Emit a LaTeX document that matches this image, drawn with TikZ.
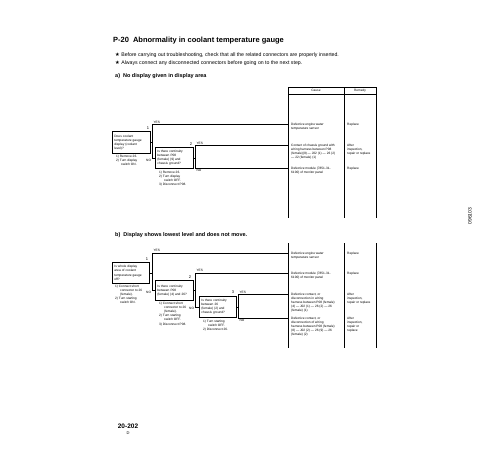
\documentclass[tikz,border=0pt]{standalone}
\usepackage{fontspec}
\setmainfont{Liberation Sans}
\newfontfamily\symf{DejaVu Sans}
\begin{document}
\begin{tikzpicture}[x=1pt,y=-1pt,
  tiny/.style={font=\fontsize{3.2}{4.1}\selectfont, inner sep=0pt, align=left, anchor=north west},
  lab/.style={font=\fontsize{3.2}{4}\selectfont, inner sep=0.3pt},
  num/.style={font=\fontsize{4}{4}\selectfont, inner sep=0.3pt, anchor=south},
  qbox/.style={draw, line width=0.8pt, anchor=north west, inner xsep=2pt, inner ysep=0pt,
     font=\fontsize{3.2}{4.1}\selectfont, align=left},
  conn/.style={line width=0.65pt},
  col/.style={line width=0.65pt}]
\useasboundingbox (0,0) rectangle (500,450);

% heading
\node[anchor=west, inner sep=0pt, font=\fontsize{7.5}{8}\selectfont\bfseries] (title) at (113,41)
  {P-20\hspace{4pt}Abnormality in coolant temperature gauge};
\node[anchor=west, inner sep=0pt, font=\fontsize{5.2}{6}\selectfont] (s1) at (115,55)
  {{\symf ★} Before carrying out troubleshooting, check that all the related connectors are properly inserted.};
\node[anchor=west, inner sep=0pt, font=\fontsize{5.2}{6}\selectfont] (s2) at (115,63)
  {{\symf ★} Always connect any disconnected connectors before going on to the next step.};
\node[anchor=west, inner sep=0pt, font=\fontsize{5.5}{6}\selectfont\bfseries] (ha) at (115,76)
  {a)\hspace{3pt}No display given in display area};

% ---------- table a
\coordinate (tA) at (288,0);
\draw[col] (288,87) rectangle (376,94);
\draw[col] (288,94) -- (288,218);
\draw[col] (344,87) -- (344,218);
\draw[col] (376,94) -- (376,218);
\node[lab] (hc) at (316,90.5) {Cause};
\node[lab] (hr) at (360,90.5) {Remedy};

% box 1a
\node[qbox, minimum width=38pt, minimum height=22pt, text width=34pt] (q1a) at (112,131)
  {Does coolant\\temperature gauge\\display (coolant\\level)?};
\node[num] (n1a) at (148,129.5) {1};
\coordinate (j1a) at (152,124.5);
\draw[conn] (q1a.east) -- (q1a.east -| j1a);
\draw[conn] (j1a) -- (j1a -| tA);
\node[lab, anchor=south west] (y1a) at (153,124) {YES};
\node[lab, anchor=east] (o1a) at (151.5,160) {NO};
\node[tiny] (m1a) at (116,154.5) {1) Remove 26.\\2) Turn display\\\hspace*{5pt}switch ON.};

% box 2a
\node[qbox, minimum width=38pt, minimum height=21pt, text width=34pt] (q2a) at (155,147)
  {Is there continuity\\between P08\\(female) (9) and\\chassis ground?};
\draw[conn] (j1a) -- (j1a |- q2a.west) -- (q2a.west);
\node[num] (n2a) at (191,145.5) {2};
\coordinate (j2a) at (195,145.5);
\coordinate (k2a) at (195,168);
\draw[conn] (q2a.east) -- (q2a.east -| j2a);
\draw[conn] (j2a -| tA) -- (j2a) -- (k2a) -- (k2a -| tA);
\node[lab, anchor=south west] (y2a) at (196,145) {YES};
\node[lab, anchor=north west] (o2a) at (196,168.5) {NO};
\node[tiny] (m2a) at (159,171) {1) Remove 26.\\2) Turn display\\\hspace*{5pt}switch OFF.\\3) Disconnect P08.};

% causes a
\node[tiny] (c1a) at (291,123) {Defective engine water\\temperature sensor};
\node[tiny] (r1a) at (347,123) {Replace};
\node[tiny] (c2a) at (291,144) {Contact of chassis ground with\\wiring harness between P08\\(female)(9) --- J02 (1) --- 26 (2)\\--- 22 (female) (1)};
\node[tiny] (r2a) at (347,144) {After\\inspection,\\repair or replace};
\node[tiny] (c3a) at (291,166.5) {Defective module (7851-31-\\6100) of monitor panel};
\node[tiny] (r3a) at (347,166.5) {Replace};

% ---------- part b
\node[anchor=west, inner sep=0pt, font=\fontsize{5.5}{6}\selectfont\bfseries] (hb) at (115,235)
  {b)\hspace{3pt}Display shows lowest level and does not move.};
\draw[col] (288,243) -- (288,348);
\draw[col] (344,243) -- (344,348);
\draw[col] (376,243) -- (376,348);

% box 1b
\node[qbox, minimum width=37pt, minimum height=21pt, text width=33pt] (q1b) at (112,262)
  {Is whole display\\area of coolant\\temperature gauge\\off?};
\node[num] (n1b) at (147,260.5) {1};
\coordinate (j1b) at (152,253);
\draw[conn] (q1b.east) -- (q1b.east -| j1b);
\draw[conn] (j1b) -- (j1b -| tA);
\node[lab, anchor=south west] (y1b) at (153,252.5) {YES};
\node[lab, anchor=east] (o1b) at (151.5,292) {NO};
\node[tiny] (m1b) at (115,284.5) {1) Connect short\\\hspace*{5pt}connector to 26\\\hspace*{5pt}(female).\\2) Turn starting\\\hspace*{5pt}switch ON.};

% box 2b
\node[qbox, minimum width=38pt, minimum height=20pt, text width=34pt] (q2b) at (155,280)
  {Is there continuity\\between P08\\(female) (4) and 26?};
\draw[conn] (j1b) -- (j1b |- q2b.west) -- (q2b.west);
\node[num] (n2b) at (190,278.5) {2};
\coordinate (j2b) at (195,273);
\draw[conn] (q2b.east) -- (q2b.east -| j2b);
\draw[conn] (j2b) -- (j2b -| tA);
\node[lab, anchor=south west] (y2b) at (196,272.5) {YES};
\node[lab, anchor=east] (o2b) at (194.5,308.5) {NO};
\node[tiny] (m2b) at (159,302) {1) Connect short\\\hspace*{5pt}connector to 26\\\hspace*{5pt}(female).\\2) Turn starting\\\hspace*{5pt}switch OFF.\\3) Disconnect P08.};

% box 3b
\node[qbox, minimum width=37pt, minimum height=21pt, text width=33pt] (q3b) at (199,296)
  {Is there continuity\\between 26\\(female) (2) and\\chassis ground?};
\draw[conn] (j2b) -- (j2b |- q3b.west) -- (q3b.west);
\node[num] (n3b) at (233,294.5) {3};
\coordinate (j3b) at (238,294.5);
\coordinate (k3b) at (238,318);
\draw[conn] (q3b.east) -- (q3b.east -| j3b);
\draw[conn] (j3b -| tA) -- (j3b) -- (k3b) -- (k3b -| tA);
\node[lab, anchor=south west] (y3b) at (239,294) {YES};
\node[lab, anchor=north west] (o3b) at (239,318.5) {NO};
\node[tiny] (m3b) at (203,319.5) {1) Turn starting\\\hspace*{5pt}switch OFF.\\2) Disconnect 26.};

% causes b
\node[tiny] (c1b) at (291,251.5) {Defective engine water\\temperature sensor};
\node[tiny] (r1b) at (347,251.5) {Replace};
\node[tiny] (c2b) at (291,271.5) {Defective module (7851-31-\\6100) of monitor panel};
\node[tiny] (r2b) at (347,271.5) {Replace};
\node[tiny] (c3b) at (291,293) {Defective contact, or\\disconnection in wiring\\harness between P08 (female)\\(4) --- J02 (1) --- 26 (2) --- 26\\(female) (1)};
\node[tiny] (r3b) at (347,293) {After\\inspection,\\repair or replace};
\node[tiny] (c4b) at (291,316.5) {Defective contact, or\\disconnection of wiring\\harness between P08 (female)\\(8) --- J02 (2) --- 26 (9) --- 26\\(female) (2)};
\node[tiny] (r4b) at (347,316.5) {After\\inspection,\\repair or\\replace};

% side code and footer
\node[inner sep=0pt, rotate=90, font=\fontsize{5}{5}\selectfont] (code) at (470,216) {096103};
\node[inner sep=0pt, font=\fontsize{6.5}{7}\selectfont\bfseries] (pg) at (128,426) {20-202};
\node[inner sep=0pt, font=\symf\fontsize{4}{4}\selectfont] (pc) at (128,433) {②};
\end{tikzpicture}
\end{document}
